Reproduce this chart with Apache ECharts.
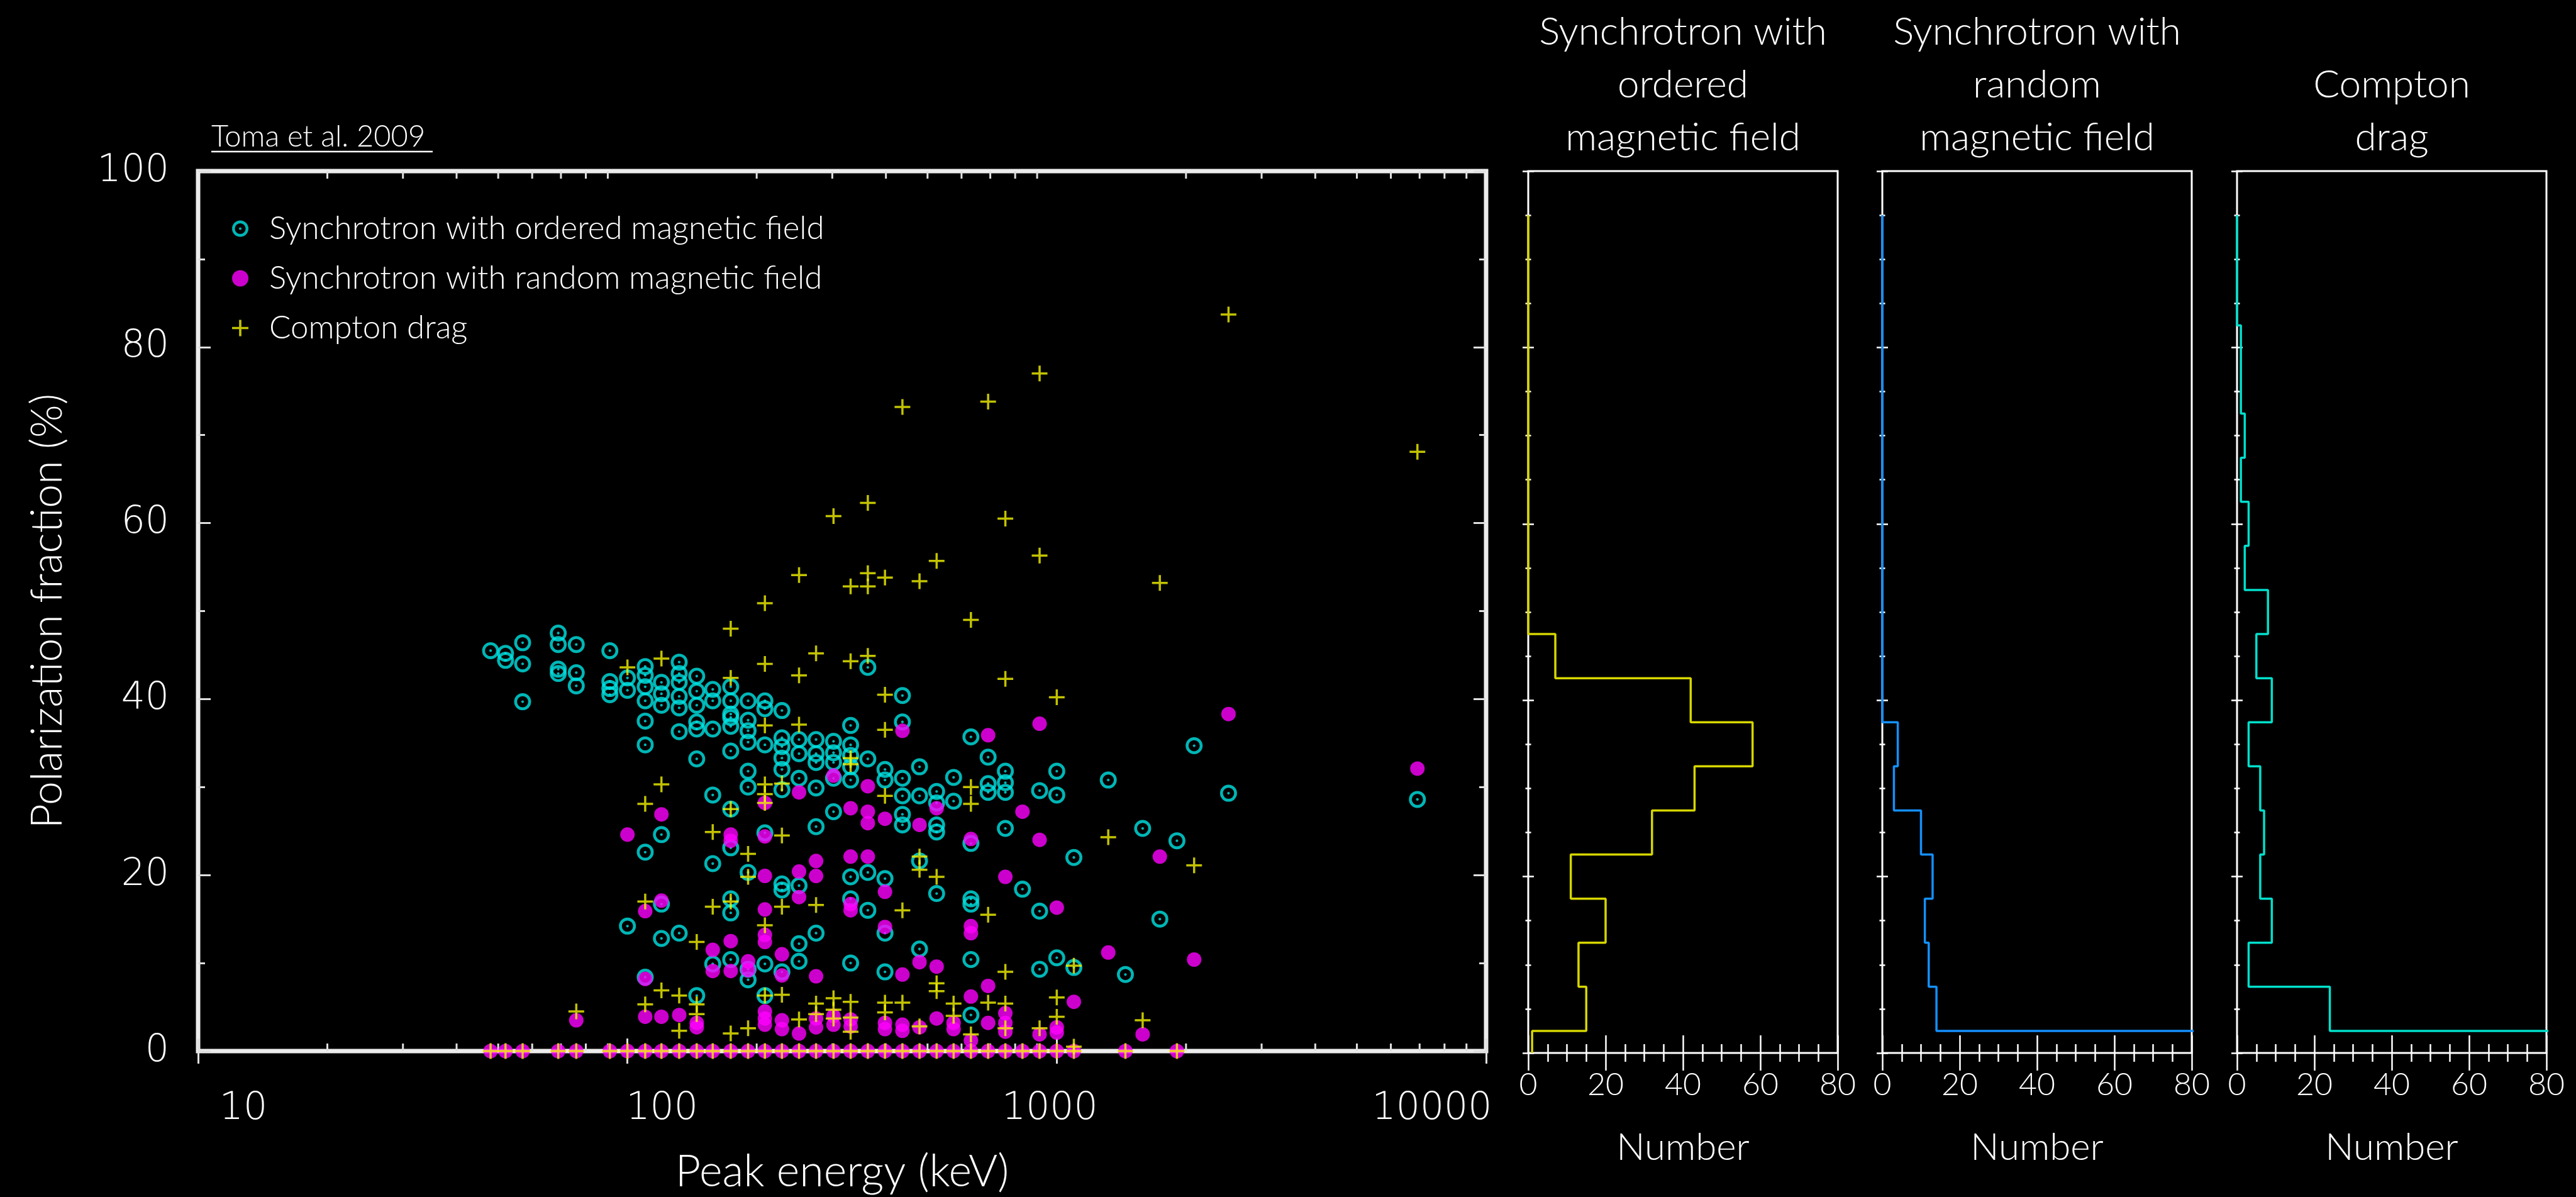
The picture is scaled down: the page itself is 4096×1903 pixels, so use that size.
<!DOCTYPE html>
<html>
<head>
<meta charset="utf-8">
<script src="https://cdn.jsdelivr.net/npm/echarts@6/dist/echarts.min.js"></script>
<style>
  html, body { margin: 0; padding: 0; background: #000; }
  #chart { width: 4096px; height: 1903px; }
</style>
</head>
<body>
<div id="chart"></div>
<script>
// Peak energy (keV) vs polarization fraction (%) for each burst, one list per emission model
const orderedField = [
  [48,45.5],[52,45.2],[52,44.4],[57,46.4],[57,44.0],[57,39.7],
  [69,47.5],[69,46.2],[69,43.4],[69,42.9],[76,46.2],[76,43.0],[76,41.5],
  [91,45.5],[91,42.0],[91,41.2],[91,40.5],
  [100,42.4],[100,41.0],[100,14.2],
  [110,43.7],[110,42.7],[110,41.4],[110,39.8],[110,37.5],[110,34.8],[110,22.6],[110,8.4],
  [120,41.9],[120,40.6],[120,39.3],[120,24.6],[120,16.7],[120,12.8],
  [132,44.2],[132,42.9],[132,41.9],[132,40.3],[132,39.0],[132,36.3],[132,13.4],
  [145,42.6],[145,40.9],[145,39.3],[145,37.4],[145,36.6],[145,33.2],[145,6.3],
  [158,41.1],[158,39.8],[158,36.6],[158,29.1],[158,21.3],[158,9.9],
  [174,41.4],[174,39.8],[174,38.3],[174,37.9],[174,36.9],[174,34.1],[174,27.5],[174,23.1],[174,17.3],[174,15.7],[174,10.4],
  [191,39.8],[191,37.6],[191,36.4],[191,35.1],[191,31.8],[191,30.0],[191,20.3],[191,9.3],[191,8.1],
  [209,39.8],[209,38.9],[209,34.8],[209,24.8],[209,9.9],[209,6.3],
  [229,38.7],[229,35.6],[229,34.6],[229,33.3],[229,32.0],[229,29.7],[229,19.0],[229,18.3],[229,9.0],
  [251,35.4],[251,33.8],[251,31.0],[251,18.8],[251,12.2],[251,10.2],
  [275,35.4],[275,33.8],[275,32.8],[275,29.9],[275,25.5],[275,13.4],
  [302,35.2],[302,33.9],[302,32.8],[302,31.0],[302,27.2],
  [331,37.0],[331,34.8],[331,33.6],[331,32.3],[331,30.8],[331,19.8],[331,17.3],[331,10.0],
  [363,43.6],[363,33.2],[363,20.3],[363,16.0],
  [398,32.0],[398,30.8],[398,19.6],[398,13.4],[398,9.0],
  [437,40.4],[437,37.4],[437,31.0],[437,29.0],[437,26.9],[437,25.7],
  [479,32.3],[479,29.0],[479,21.6],[479,11.6],
  [525,29.5],[525,28.2],[525,25.7],[525,24.9],[525,17.9],
  [575,31.1],[575,28.4],
  [631,35.7],[631,23.6],[631,17.3],[631,16.7],[631,10.4],[631,4.1],
  [692,33.4],[692,30.4],[692,29.4],
  [759,31.8],[759,30.5],[759,29.4],[759,25.3],
  [832,18.4],[912,29.6],[912,15.9],[912,9.3],
  [1000,31.8],[1000,29.1],[1000,10.6],[1096,22.0],[1096,9.5],
  [1318,30.8],[1445,8.7],[1585,25.3],[1738,15.0],[1905,23.9],[2089,34.7],[2512,29.3],[6918,28.6]
];

const randomField = [
  [76,3.5],[100,24.6],
  [110,15.9],[110,8.2],[110,3.9],[120,26.9],[120,17.1],[120,3.9],[132,4.1],
  [145,3.2],[145,2.7],[158,11.5],[158,9.1],
  [174,24.6],[174,23.9],[174,12.5],[174,9.1],[191,10.2],[191,9.2],
  [209,28.2],[209,24.4],[209,19.9],[209,16.1],[209,13.2],[209,12.4],[209,4.5],[209,3.7],[209,3.0],
  [229,11.0],[229,8.6],[229,3.5],[229,2.5],
  [251,29.4],[251,20.4],[251,17.5],[251,2.0],
  [275,21.6],[275,19.9],[275,8.5],[275,3.7],[275,2.7],
  [302,31.3],[302,4.0],[302,3.0],
  [331,27.6],[331,22.1],[331,16.7],[331,16.0],[331,3.6],[331,2.8],
  [363,30.1],[363,27.2],[363,25.9],[363,22.1],
  [398,26.4],[398,18.1],[398,14.1],[398,3.2],[398,2.5],
  [437,36.4],[437,8.7],[437,3.0],[437,2.3],
  [479,25.7],[479,10.1],[479,2.7],[525,27.6],[525,9.6],[525,3.7],
  [575,3.2],[575,2.5],
  [631,24.1],[631,14.2],[631,13.4],[631,6.2],[631,1.2],
  [692,35.9],[692,7.4],[692,3.2],
  [759,19.8],[759,4.3],[759,3.2],[759,2.2],
  [832,27.2],[912,37.2],[912,24.0],[912,1.9],
  [1000,16.3],[1000,2.7],[1000,2.1],[1096,5.6],[1318,11.2],[1585,1.9],
  [1738,22.1],[2089,10.4],[2512,38.3],[6918,32.1],
  [48,0],[52,0],[57,0],[69,0],[76,0],[91,0],[100,0],[110,0],[120,0],[132,0],[145,0],[158,0],
  [174,0],[191,0],[209,0],[229,0],[251,0],[275,0],[302,0],[331,0],[363,0],[398,0],[437,0],
  [479,0],[525,0],[575,0],[631,0],[692,0],[759,0],[832,0],[912,0],[1000,0],[1096,0],[1445,0],[1905,0]
];

const comptonDrag = [
  [76,4.5],[100,43.6],
  [110,28.1],[110,17.0],[110,5.3],[120,44.6],[120,30.3],[120,6.9],[132,6.3],[132,2.3],
  [145,12.4],[145,5.3],[145,4.2],[158,24.9],[158,16.4],
  [174,48.0],[174,42.4],[174,27.5],[174,17.0],[174,2.0],
  [191,22.4],[191,19.8],[191,2.6],
  [209,50.9],[209,44.0],[209,37.0],[209,30.3],[209,29.2],[209,28.2],[209,14.3],[209,6.3],
  [229,30.4],[229,24.5],[229,16.4],[229,6.4],
  [251,54.1],[251,42.7],[251,37.1],[251,3.6],
  [275,45.2],[275,16.6],[275,5.4],[275,4.2],
  [302,60.8],[302,6.0],[302,4.7],[302,3.7],
  [331,52.8],[331,44.3],[331,33.3],[331,32.6],[331,5.6],[331,3.8],[331,2.2],
  [363,62.3],[363,54.3],[363,52.8],[363,44.9],
  [398,53.8],[398,40.5],[398,36.5],[398,29.0],[398,5.5],[398,4.4],
  [437,73.2],[437,16.0],[437,5.5],
  [479,53.4],[479,22.1],[479,20.6],[479,2.8],
  [525,55.7],[525,19.8],[525,7.7],[525,6.8],
  [575,5.4],[575,4.0],
  [631,49.0],[631,30.0],[631,28.1],[631,1.9],
  [692,73.8],[692,15.5],[692,5.5],
  [759,60.5],[759,42.3],[759,9.0],[759,5.4],[759,2.6],
  [912,77.0],[912,56.3],[912,2.6],
  [1000,40.2],[1000,6.1],[1000,3.9],[1096,9.7],[1096,0.5],
  [1318,24.3],[1585,3.5],[1738,53.2],[2089,21.1],[2512,83.7],[6918,68.1],
  [48,0],[52,0],[57,0],[69,0],[76,0],[91,0],[100,0],[110,0],[120,0],[132,0],[145,0],[158,0],
  [174,0],[191,0],[209,0],[229,0],[251,0],[275,0],[302,0],[331,0],[363,0],[398,0],[437,0],
  [479,0],[525,0],[575,0],[631,0],[692,0],[759,0],[832,0],[912,0],[1000,0],[1096,0],[1445,0],[1905,0]
];

// Number of bursts per polarization bin (bin centres in %)
const binCentres  = [0, 5, 10, 15, 20, 25, 30, 35, 40, 45, 50, 55, 60, 65, 70, 75, 80, 85, 90, 95];
const histOrdered = [1, 15, 13, 20, 11, 32, 43, 58, 42, 7, 0, 0, 0, 0, 0, 0, 0, 0, 0, 0];
const histRandom  = [175, 14, 12, 11, 13, 10, 3, 4, 0, 0, 0, 0, 0, 0, 0, 0, 0, 0, 0, 0];
const histCompton = [152, 24, 3, 9, 6, 7, 6, 3, 9, 5, 8, 2, 3, 1, 2, 1, 1, 0, 0, 0];

// Axis ticks
const energyLabels = [10, 100, 1000, 10000];
const energyMinorTicks = [20, 30, 40, 50, 60, 70, 80, 90, 200, 300, 400, 500, 600, 700, 800, 900,
                          2000, 3000, 4000, 5000, 6000, 7000, 8000, 9000];

const seriesNames = ['Synchrotron with ordered magnetic field', 'Synchrotron with random magnetic field', 'Compton drag'];
const panelTitles = ['Synchrotron with\nordered\nmagnetic field', 'Synchrotron with\nrandom\nmagnetic field', 'Compton\ndrag'];

// ---------------------------------------------------------------------------
const TEXT_FONT = "Lato, 'Open Sans', sans-serif";
const NUM_FONT = "'DejaVu Sans', sans-serif";
const WHITE = '#ffffff';

// ring with a centre dot, a filled dot, and a plus sign
const ringSymbol = 'path://M50,0A50,50 0 1,1 50,100A50,50 0 1,1 50,0Z M50,17A33,33 0 1,0 50,83A33,33 0 1,0 50,17Z M50,42A8,8 0 1,1 50,58A8,8 0 1,1 50,42Z';
const plusSymbol = 'path://M43,0H57V43H100V57H57V100H43V57H0V43H43Z';

// step outline of a histogram, drawn sideways: vertical runs at each count across its bin
function stepOutline(counts) {
  const half = (binCentres[1] - binCentres[0]) / 2;
  const top = binCentres[binCentres.length - 1];
  const pts = [];
  for (let i = binCentres.length - 1; i >= 0; i--) {
    const c = binCentres[i];
    pts.push([counts[i], Math.min(c + half, top)]);
    pts.push([counts[i], Math.max(c - half, 0)]);
  }
  return pts;
}

const main = { left: 315, top: 272, width: 2048, height: 1402 };
const panelLefts = [2430, 2993, 3557];
const panelWidth = 492;
const panelColors = ['#d6d600', '#1490ff', '#00e0cc'];
const panelHists = [histOrdered, histRandom, histCompton];

const labelKeys = { 10: 'a', 100: 'b', 1000: 'c', 10000: 'd' };
const numStyle = { fontSize: 60, fontFamily: NUM_FONT, color: WHITE, fontWeight: 200 };
const labelRich = {
  a: Object.assign({ padding: [0, 0, 0, 144] }, numStyle),
  b: Object.assign({ padding: [0, 0, 0, 110] }, numStyle),
  c: Object.assign({ padding: [0, 22, 0, 0] }, numStyle),
  d: Object.assign({ padding: [0, 172, 0, 0] }, numStyle)
};

const grids = [Object.assign({ show: true, borderColor: '#ececec', borderWidth: 7, backgroundColor: 'transparent' }, main)];
panelLefts.forEach(l => grids.push({ show: true, borderColor: WHITE, borderWidth: 3, left: l, top: main.top, width: panelWidth, height: main.height }));

const mainTick = { show: true, inside: true, length: 20, lineStyle: { color: '#e0e0e0', width: 3 } };
const mainMinor = { show: true, splitNumber: 2, length: 11, lineStyle: { color: '#e0e0e0', width: 3 } };

const xAxes = [
  {
    gridIndex: 0, type: 'log', logBase: 10, min: 10, max: 10000, position: 'bottom',
    axisLine: { show: false }, axisTick: mainTick, splitLine: { show: false },
    axisLabel: {
      margin: 62,
      formatter: v => energyLabels.indexOf(v) >= 0 ? '{' + labelKeys[v] + '|' + v + '}' : '',
      rich: labelRich
    },
    name: 'Peak energy (keV)', nameLocation: 'middle', nameGap: 157,
    nameTextStyle: { color: WHITE, fontSize: 70, fontFamily: TEXT_FONT, fontWeight: 300 }
  },
  {
    gridIndex: 0, type: 'log', logBase: 10, min: 10, max: 10000, position: 'top',
    axisLine: { show: false }, axisLabel: { show: false }, splitLine: { show: false },
    axisTick: mainTick
  }
];
const yAxes = [
  {
    gridIndex: 0, type: 'value', min: 0, max: 100, interval: 20, position: 'left',
    axisLine: { show: false }, splitLine: { show: false },
    axisTick: mainTick, minorTick: mainMinor,
    axisLabel: { color: WHITE, fontSize: 60, fontFamily: NUM_FONT, fontWeight: 200, margin: 46 },
    name: 'Polarization fraction (%)', nameLocation: 'middle', nameGap: 205, nameRotate: 90,
    nameTextStyle: { color: WHITE, fontSize: 68, fontFamily: TEXT_FONT, fontWeight: 300 }
  },
  {
    gridIndex: 0, type: 'value', min: 0, max: 100, interval: 20, position: 'right',
    axisLine: { show: false }, splitLine: { show: false }, axisLabel: { show: false },
    axisTick: mainTick, minorTick: mainMinor
  }
];

const panelTick = { show: true, inside: true, length: 28, lineStyle: { color: WHITE, width: 2.5 } };
const panelMinor = { show: true, splitNumber: 4, length: 14, lineStyle: { color: WHITE, width: 2.5 } };
const panelYTick = { show: true, inside: true, length: 9, lineStyle: { color: WHITE, width: 2.5 } };
const panelYMinor = { show: true, splitNumber: 4, length: 4.5, lineStyle: { color: WHITE, width: 2.5 } };

panelLefts.forEach((l, i) => {
  const g = i + 1;
  xAxes.push({
    gridIndex: g, type: 'value', min: 0, max: 80, interval: 20, position: 'bottom',
    axisLine: { show: false }, splitLine: { show: false },
    axisTick: panelTick, minorTick: panelMinor,
    axisLabel: { color: WHITE, fontSize: 50, fontFamily: TEXT_FONT, fontWeight: 300, margin: 26 },
    name: 'Number', nameLocation: 'middle', nameGap: 121,
    nameTextStyle: { color: WHITE, fontSize: 60, fontFamily: TEXT_FONT, fontWeight: 300 }
  });
  xAxes.push({
    gridIndex: g, type: 'value', min: 0, max: 80, interval: 20, position: 'top',
    axisLine: { show: false }, splitLine: { show: false }, axisLabel: { show: false },
    axisTick: panelTick, minorTick: panelMinor
  });
  yAxes.push({
    gridIndex: g, type: 'value', min: 0, max: 100, interval: 20, position: 'left',
    axisLine: { show: false }, splitLine: { show: false }, axisLabel: { show: false },
    axisTick: panelYTick, minorTick: panelYMinor
  });
  yAxes.push({
    gridIndex: g, type: 'value', min: 0, max: 100, interval: 20, position: 'right',
    axisLine: { show: false }, splitLine: { show: false }, axisLabel: { show: false },
    axisTick: panelYTick, minorTick: panelYMinor
  });
});

const series = [
  {
    type: 'custom', xAxisIndex: 0, yAxisIndex: 0, silent: true, clip: false, z: 1,
    data: energyMinorTicks.map(v => [v, 0]),
    renderItem: (params, api) => {
      const v = api.value(0);
      const b = api.coord([v, 0]);
      const t = api.coord([v, 100]);
      const st = { stroke: '#e0e0e0', lineWidth: 3 };
      return {
        type: 'group', children: [
          { type: 'line', shape: { x1: b[0], y1: b[1], x2: b[0], y2: b[1] - 12 }, style: st },
          { type: 'line', shape: { x1: t[0], y1: t[1], x2: t[0], y2: t[1] + 12 }, style: st }
        ]
      };
    }
  },
  {
    name: seriesNames[0], type: 'scatter', xAxisIndex: 0, yAxisIndex: 0, z: 3,
    symbol: ringSymbol, symbolSize: 27, symbolKeepAspect: true,
    itemStyle: { color: '#00e4e4' }, data: orderedField
  },
  {
    name: seriesNames[1], type: 'scatter', xAxisIndex: 0, yAxisIndex: 0, z: 4,
    symbol: 'circle', symbolSize: 23,
    itemStyle: { color: '#ff00ff' }, data: randomField
  },
  {
    name: seriesNames[2], type: 'scatter', xAxisIndex: 0, yAxisIndex: 0, z: 5,
    symbol: plusSymbol, symbolSize: 25,
    itemStyle: { color: '#f2f200' }, data: comptonDrag
  }
];
panelHists.forEach((h, i) => {
  series.push({
    type: 'line', xAxisIndex: 2 * i + 2, yAxisIndex: 2 * i + 2,
    data: stepOutline(h), symbol: 'none', clip: true, silent: true,
    lineStyle: { color: panelColors[i], width: 3.5 }
  });
});

const titles = panelTitles.map((t, i) => ({
  text: t, left: panelLefts[i] + panelWidth / 2, textAlign: 'center',
  top: i === 2 ? 93 : 9, padding: 0,
  textStyle: { color: WHITE, fontSize: 62, lineHeight: 84, fontFamily: TEXT_FONT, fontWeight: 300 }
}));

const option = {
  backgroundColor: '#000000',
  animation: false,
  title: titles,
  grid: grids,
  xAxis: xAxes,
  yAxis: yAxes,
  legend: {
    orient: 'vertical', left: 364, top: 333,
    itemWidth: 26, itemHeight: 26, itemGap: 28,
    data: seriesNames,
    textStyle: { color: WHITE, fontSize: 51, lineHeight: 51, fontFamily: TEXT_FONT, fontWeight: 300, padding: [0, 0, 0, 28] }
  },
  graphic: [
    {
      type: 'text', left: 336, top: 194,
      style: { text: 'Toma et al. 2009', fill: WHITE, fontSize: 47, fontFamily: TEXT_FONT, fontWeight: 300 }
    },
    {
      type: 'line', shape: { x1: 336, y1: 241, x2: 688, y2: 241 },
      style: { stroke: WHITE, lineWidth: 2.5 }
    }
  ],
  series: series
};

const chart = echarts.init(document.getElementById('chart'), null, { renderer: 'canvas' });
chart.setOption(option);
</script>
</body>
</html>
